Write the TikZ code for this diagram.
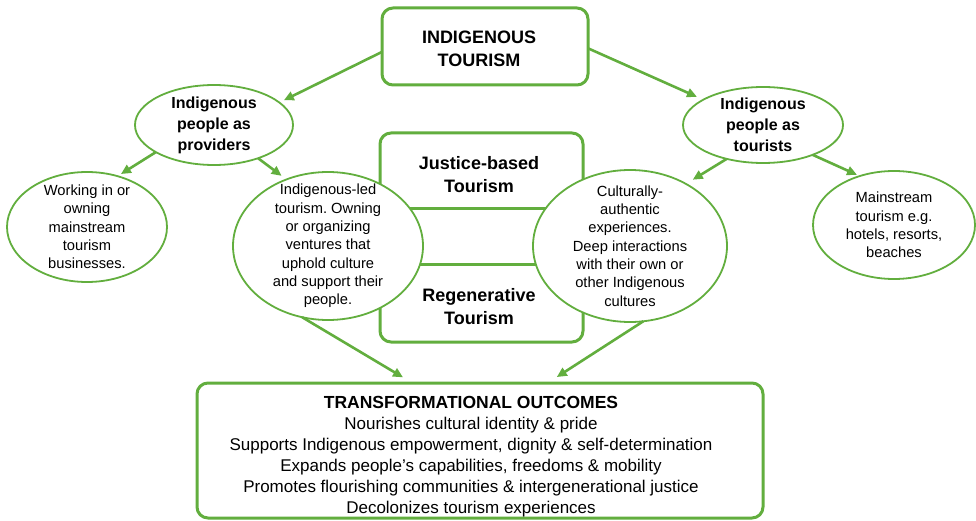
\documentclass[tikz,border=0pt]{standalone}
\usepackage{fontspec}
\setmainfont{Liberation Sans}
\usetikzlibrary{shapes.geometric,arrows.meta}
\definecolor{leaf}{HTML}{62AE3E}
\frenchspacing

\begin{document}
\begin{tikzpicture}[x=1pt,y=-1pt,
  bubble/.style={ellipse, draw=leaf, line width=1.8pt, fill=white,
                 inner sep=-40pt, outer sep=0pt, align=center},
  plain/.style={font=\fontsize{14.7}{18.3}\selectfont},
  heading/.style={font=\bfseries\fontsize{16}{21}\selectfont},
  bigtitle/.style={font=\bfseries\fontsize{18}{23}\selectfont, align=center},
  panel/.style={draw=leaf, line width=3pt, rounded corners=11pt, fill=white,
                inner sep=0pt, outer sep=0pt},
  link/.style={draw=leaf, line width=2.6pt, -{Triangle[length=10pt,width=9pt]}},
]
\useasboundingbox (0,0) rectangle (976,521);

% top level box
\node[panel, minimum width=206pt, minimum height=77pt] (it) at (485,46.5) {};
\node[bigtitle] (itl) at (479,49) {INDIGENOUS\\TOURISM};

% middle box with its two dividers and two titles
\node[panel, minimum width=203pt, minimum height=209pt] (cb) at (481.5,237.5) {};
\draw[leaf, line width=3pt] ([yshift=28.5pt]cb.west) -- ([yshift=28.5pt]cb.east);
\draw[leaf, line width=3pt] ([yshift=-26.5pt]cb.west) -- ([yshift=-26.5pt]cb.east);
\node[bigtitle] (jt) at (479,175) {Justice-based\\Tourism};
\node[bigtitle] (rt) at (479,307) {Regenerative\\Tourism};

% bottom outcomes box
\node[panel, minimum width=566pt, minimum height=135pt] (ob) at (480,450.5) {};
\node[align=center, font=\fontsize{17}{21}\selectfont] (oc) at (471,457)
  {\textbf{\fontsize{17.5}{21}\selectfont TRANSFORMATIONAL OUTCOMES}\\
   Nourishes cultural identity \& pride\\
   Supports Indigenous empowerment, dignity \& self-determination\\
   Expands people’s capabilities, freedoms \& mobility\\
   Promotes flourishing communities \& intergenerational justice\\
   Decolonizes tourism experiences};

% ellipses
\node[bubble, heading, minimum width=158pt, minimum height=80pt] (lp) at (214,125)
  {Indigenous\\people as\\providers};
\node[bubble, heading, minimum width=160pt, minimum height=76pt] (rp) at (763,125)
  {Indigenous\\people as\\tourists};
\node[bubble, plain, minimum width=160pt, minimum height=110pt] (fl) at (87,227)
  {Working in or\\owning\\mainstream\\tourism\\businesses.};
\node[bubble, plain, minimum width=162pt, minimum height=108pt] (fr) at (894,225)
  {Mainstream\\tourism e.g.\\hotels, resorts,\\beaches};
\node[bubble, plain, minimum width=190pt, minimum height=148pt] (lc) at (328,246)
  {Indigenous-led\\tourism. Owning\\or organizing\\ventures that\\uphold culture\\and support their\\people.};
\node[bubble, plain, minimum width=194pt, minimum height=152pt] (rc) at (630,246)
  {Culturally-\\authentic\\experiences.\\Deep interactions\\with their own or\\other Indigenous\\cultures};

% connectors
\draw[link, shorten >=5pt] (it.183) -- (lp.19);
\draw[link, shorten >=7pt] (it.-1) -- (rp.157);
\draw[link, shorten >=4pt] (lp.205) -- (fl.59);
\draw[link, shorten >=6pt] (lp.-37) -- (lc.122);
\draw[link, shorten >=8pt] (rp.-137) -- (rc.48);
\draw[link, shorten >=3pt] (rp.-31) -- (fr.125);
\draw[link, shorten >=11pt] (lc.-110) -- (ob.135);
\draw[link, shorten >=11pt] (rc.-80) -- (ob.45);
\end{tikzpicture}
\end{document}
